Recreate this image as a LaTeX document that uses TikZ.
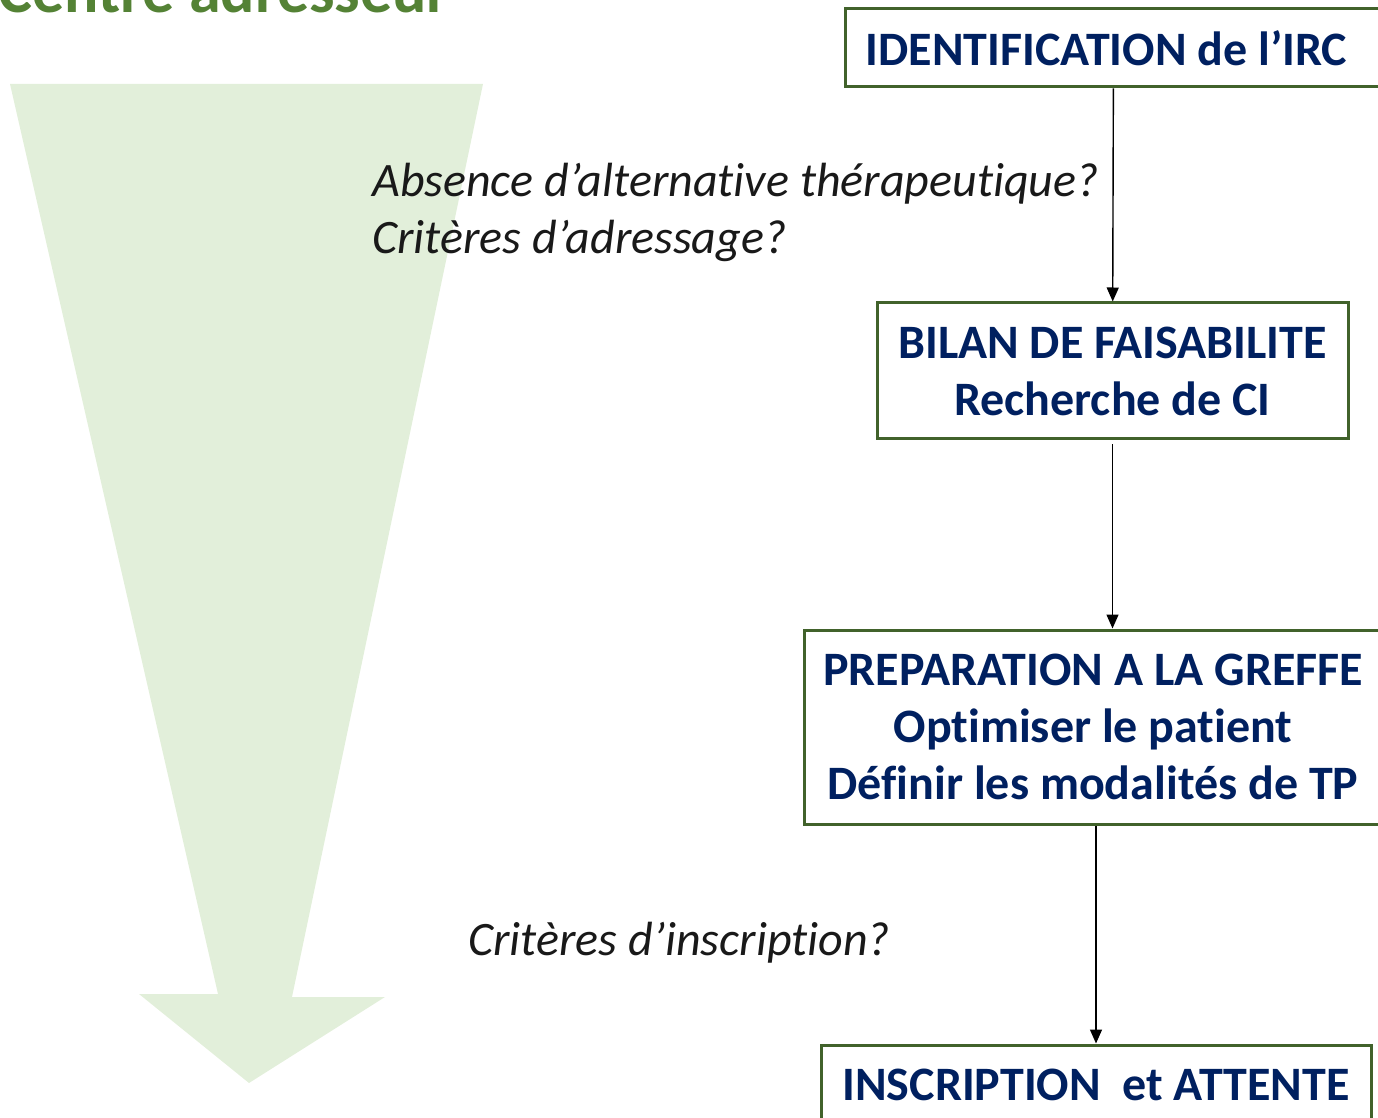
\documentclass[tikz,border=0pt]{standalone}
\usepackage{fontspec}
\setmainfont{Carlito}[RawFeature={-liga;-clig;-calt;-rlig;-dlig}]
\usetikzlibrary{arrows.meta}
\definecolor{boxgreen}{HTML}{41622B}
\definecolor{navytext}{HTML}{002060}
\definecolor{arrowfill}{HTML}{E2EFDA}
\definecolor{titlegreen}{HTML}{548235}
% keep t and i apart (no ligature)
\newcommand{\nolig}{\kern0pt{}}

\begin{document}
\begin{tikzpicture}[x=0.5pt, y=-0.5pt,
  stage/.style={draw=boxgreen, line width=1.5pt, fill=white, text=navytext,
    font=\fontsize{24}{28.5}\selectfont\bfseries, align=center, inner sep=0pt},
  question/.style={text=black!90, font=\fontsize{24}{28.5}\selectfont\itshape,
    align=left, anchor=base west, inner sep=0pt},
  flow/.style={-{Triangle[width=6pt,length=7pt]}, line width=0.7pt}]
  \useasboundingbox (0,0) rectangle (1378,1118);
  \clip (0,0) rectangle (1378,1118);
  % big arrow on the left
  \fill[arrowfill] (10,84) -- (483,84) -- (292,997) -- (385,997) -- (249,1083)
    -- (139,994) -- (218,994) -- cycle;
  \node[text=titlegreen, font=\fontsize{32}{38}\selectfont\bfseries, anchor=base west, inner sep=0pt]
    (title) at (-2,13) {Centre adresseur};

  % steps
  \node[stage, minimum width=268.5pt, minimum height=39pt] (ident) at (1113.5,48) {IDENTIFICATION de l’IRC\hspace{7pt}};
  \node[stage, minimum width=235.5pt, minimum height=68pt] (bilan) at (1112.5,371) {BILAN DE FAISABILITE\\Recherche de CI};
  \node[stage, minimum width=289pt, minimum height=97pt] (prep) at (1093,727) {PREPARATION A LA GREFFE\\Opt\nolig imiser le pat\nolig ient\\Défin\nolig ir les modalités de TP};
  \node[stage, minimum width=275pt, minimum height=40pt] (inscr) at (1096,1085) {INSCRIPTION\ \ et ATTENTE};

  % questions (base = last line)
  \node[question] (qadr) at (372,254) {Absence d’alternat\nolig ive thérapeut\nolig ique?\\Critères d’adressage?};
  \node[question] (qinscr) at (468,955) {Critères d’inscript\nolig ion?};

  \draw[flow] (ident) -- (bilan);
  \draw[flow] ([yshift=-2pt]bilan.south) -- (bilan.south |- prep.north);
  \draw[flow] (prep.south -| inscr.north) -- (inscr);
\end{tikzpicture}
\end{document}
